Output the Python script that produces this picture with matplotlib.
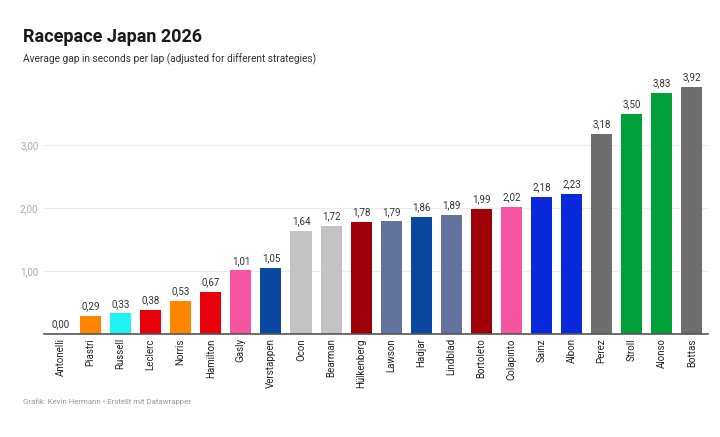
import matplotlib
matplotlib.use("Agg")
import matplotlib.pyplot as plt

plt.rcParams["font.family"] = ["Roboto", "DejaVu Sans"]

# =============================================================================
# Data
# =============================================================================

drivers = [
    "Antonelli", "Piastri", "Russell", "Leclerc", "Norris", "Hamilton",
    "Gasly", "Verstappen", "Ocon", "Bearman", "Hülkenberg", "Lawson",
    "Hadjar", "Lindblad", "Bortoleto", "Colapinto", "Sainz", "Albon",
    "Perez", "Stroll", "Alonso", "Bottas",
]

gaps = [
    0.00, 0.29, 0.33, 0.38, 0.53, 0.67,
    1.01, 1.05, 1.64, 1.72, 1.78, 1.79,
    1.86, 1.89, 1.99, 2.02, 2.18, 2.23,
    3.18, 3.50, 3.83, 3.92,
]

colors = [
    "#00d2be", "#ff8700", "#1ff2f2", "#e8000b", "#ff8700", "#e8000b",
    "#f5559e", "#0a47a0", "#c3c3c3", "#c3c3c3", "#a00008", "#64739e",
    "#0a47a0", "#64739e", "#a00008", "#f5559e", "#0a28dc", "#0a28dc",
    "#6e6e6e", "#00a03a", "#00a03a", "#6e6e6e",
]

y_ticks = [1.0, 2.0, 3.0]

# =============================================================================
# Chart
# =============================================================================

fig = plt.figure(figsize=(7.2, 4.37), dpi=100)
ax = fig.add_axes([0.061, 0.2357, 0.922, 0.591])

x = list(range(len(drivers)))
ax.bar(x, gaps, width=0.7, color=colors, zorder=3)

for xi, val in zip(x, gaps):
    ax.text(xi, val + 0.07, f"{val:.2f}".replace(".", ","),
            ha="center", va="bottom", fontsize=7, color="#333333")

ax.set_xlim(-0.55, len(drivers) - 0.47)
ax.set_ylim(0, 4.1)

ax.set_yticks(y_ticks)
ax.set_yticklabels([f"{t:.2f}".replace(".", ",") for t in y_ticks],
                   fontsize=7, color="#aaaaaa")
ax.yaxis.grid(True, color="#ebebeb", linewidth=0.8, zorder=0)
ax.tick_params(axis="y", length=0, pad=4)

ax.set_xticks(x)
ax.set_xticklabels(drivers, rotation=90, fontsize=7, color="#222222")
ax.tick_params(axis="x", length=0, pad=3)

for side in ["top", "right", "left"]:
    ax.spines[side].set_visible(False)
ax.spines["bottom"].set_color("#555555")
ax.spines["bottom"].set_linewidth(1.2)
ax.spines["bottom"].set_zorder(4)

fig.text(0.032, 0.915, "Racepace Japan 2026", fontsize=13, fontweight="bold",
         color="#1a1a1a", va="center")
fig.text(0.032, 0.865, "Average gap in seconds per lap (adjusted for different strategies)",
         fontsize=7.3, color="#333333", va="center")
fig.text(0.032, 0.082, "Grafik: Kevin Hermann • Erstellt mit Datawrapper",
         fontsize=5.7, color="#999999", va="center")

fig.savefig("out.png", dpi=100, facecolor="white")
